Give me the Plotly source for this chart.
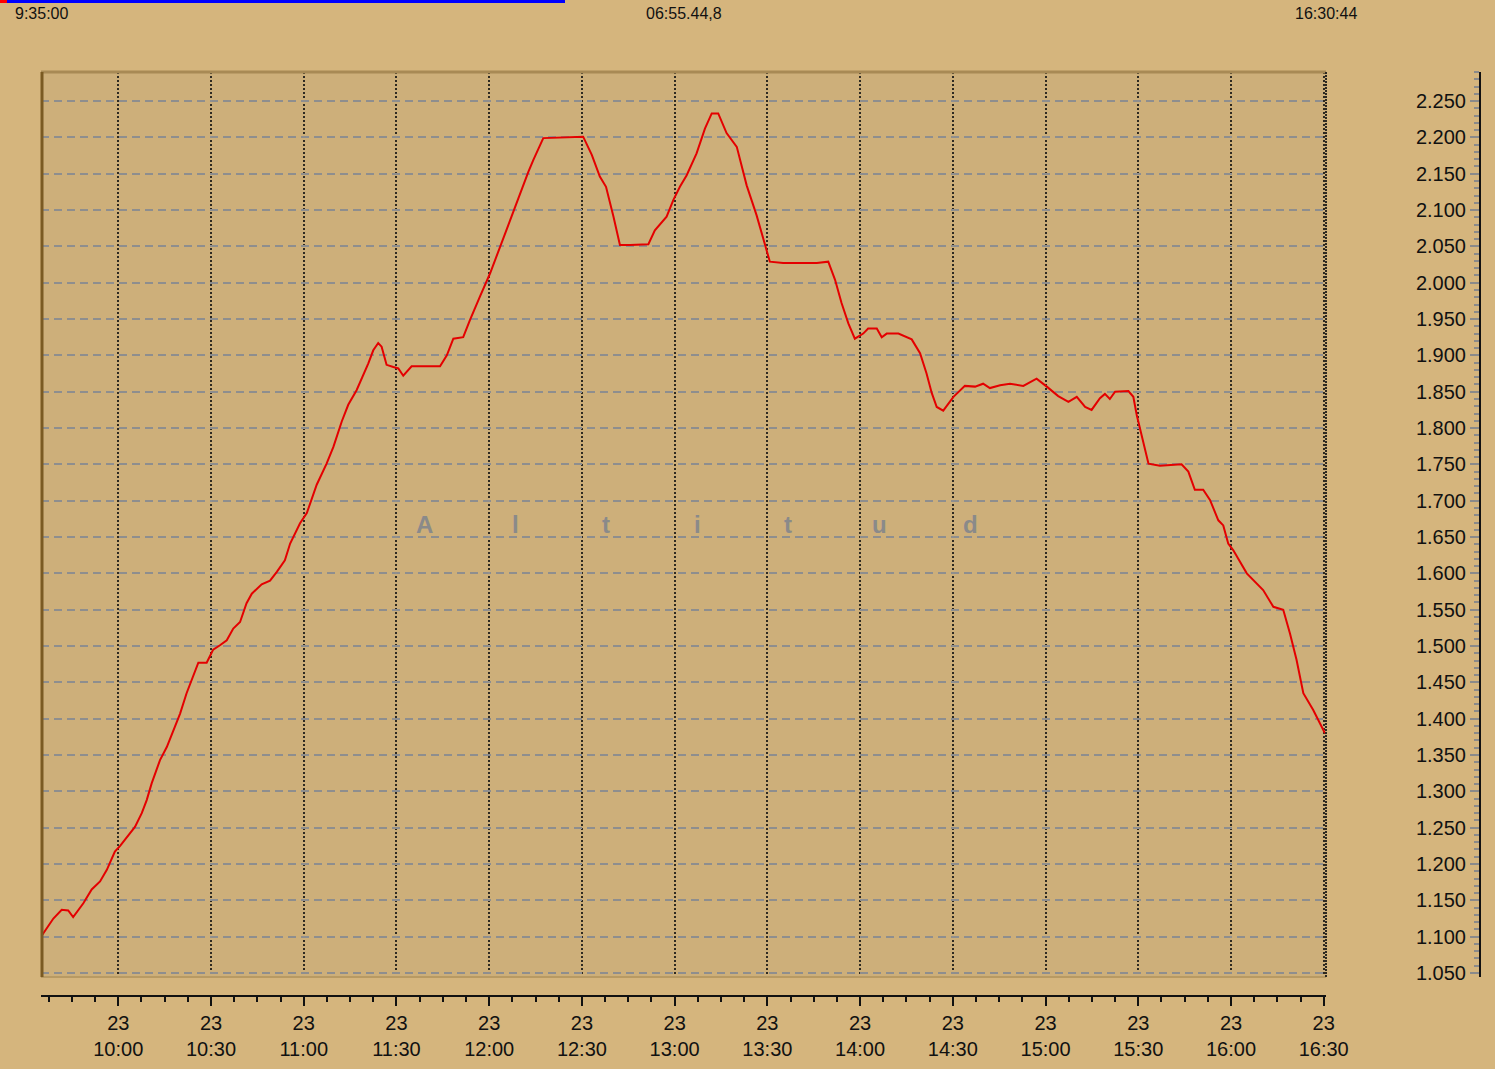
import plotly.graph_objects as go
import pandas as pd

# ---------------- data ----------------
start_time = "2009-05-23 09:35:00"
end_time = "2009-05-23 16:30:44"

# minutes after 09:35:00
minutes = [0.0, 4.0, 6.7, 8.8, 10.4, 13.7, 16.4, 19.1, 21.3, 23.9, 25.6, 30.4, 32.6, 34.2,
           35.8, 38.5, 40.7, 42.8, 45.0, 47.1, 49.3, 50.9, 53.6, 55.7, 57.9, 60.1, 62.2,
           64.4, 66.5, 68.2, 71.4, 74.1, 76.3, 78.9, 80.6, 83.8, 86.0, 89.2, 92.4, 94.6,
           97.3, 99.4, 102.1, 103.8, 105.9, 107.5, 109.1, 110.2, 111.8, 114.0, 115.6,
           117.2, 119.9, 123.7, 129.1, 131.3, 133.4, 136.6, 138.8, 142.0, 145.3, 148.5,
           152.3, 154.4, 157.7, 159.3, 162.5, 175.4, 178.2, 180.8, 182.8, 185.2, 187.3,
           190.6, 196.5, 198.6, 202.4, 204.6, 206.7, 208.9, 212.1, 214.8, 217.0, 219.1,
           221.8, 225.1, 228.3, 231.5, 233.7, 235.8, 240.1, 251.0, 254.7, 256.9, 259.0,
           261.2, 263.3, 266.0, 267.6, 270.4, 272.0, 273.6, 277.4, 281.7, 284.4, 286.5,
           288.2, 289.8, 291.9, 295.2, 298.9, 302.2, 304.8, 307.0, 310.3, 313.5, 317.8,
           322.1, 325.4, 329.1, 332.4, 335.1, 337.8, 339.9, 342.6, 344.2, 345.8, 347.5,
           351.8, 353.4, 354.5, 356.6, 358.3, 362.0, 369.0, 371.2, 373.3, 376.0, 378.2,
           380.9, 382.5, 384.1, 385.7, 390.1, 395.4, 398.7, 401.9, 404.1, 406.2, 408.4,
           411.6, 415.4]

altitude = [1100, 1125, 1137, 1136, 1127, 1146, 1165, 1176, 1192, 1217, 1225, 1251, 1270, 1288,
            1311, 1343, 1361, 1384, 1407, 1435, 1458, 1477, 1477, 1495, 1501, 1508, 1524,
            1533, 1559, 1572, 1585, 1590, 1602, 1618, 1641, 1669, 1683, 1722, 1751, 1774,
            1809, 1832, 1852, 1868, 1889, 1907, 1917, 1912, 1887, 1884, 1882,
            1872, 1885, 1885, 1885, 1900, 1923, 1925, 1949, 1981, 2013, 2049,
            2093, 2116, 2153, 2169, 2199, 2201, 2176, 2146, 2132, 2091, 2052,
            2052, 2053, 2072, 2091, 2114, 2132, 2148, 2178, 2212, 2233, 2233,
            2206, 2187, 2134, 2093, 2061, 2029, 2027, 2027, 2029, 2004, 1972,
            1944, 1923, 1930, 1937, 1937, 1925, 1930, 1930, 1922, 1903, 1875,
            1848, 1829, 1824, 1843, 1858, 1857, 1861, 1855, 1859, 1861, 1858,
            1868, 1857, 1844, 1836, 1843, 1829, 1825, 1841, 1847, 1840, 1850,
            1851, 1843, 1818, 1779, 1751, 1748, 1750, 1740, 1715, 1715, 1701,
            1673, 1666, 1641, 1632, 1600, 1577, 1554, 1550, 1517, 1481, 1435,
            1412, 1380]

title_text = "Altitud"
top_left_label = "9:35:00"
top_mid_label = "06:55.44,8"
top_right_label = "16:30:44"

# ---------------- layout constants ----------------
W, H = 1495, 1069
ML, MR, MT, MB = 41, 15, 72, 73
PW = W - ML - MR          # paper width in px
PH = H - MT - MB          # paper height in px
PLOT_RIGHT = 1326
PLOT_BOTTOM = 977


def px_x(px):
    return (px - ML) / PW


def px_y(py):
    return (H - MB - py) / PH


x_dom = [0, px_x(PLOT_RIGHT)]
y_dom = [px_y(PLOT_BOTTOM), 1]

t0 = pd.Timestamp(start_time)
times = [t0 + pd.Timedelta(minutes=m) for m in minutes]
x_range = [start_time, end_time]
y_range = [1044.5, 2290]
tick0 = "2009-05-23 10:00:00"

OUTER_BG = "#D5B57D"
PLOT_BG = "#CDAF7A"
FONT = "Liberation Sans, Arial, sans-serif"

fig = go.Figure()
fig.add_trace(go.Scatter(x=times, y=altitude, mode="lines",
                         line=dict(color="#E40000", width=2),
                         hoverinfo="x+y", showlegend=False))
# invisible trace to carry the outer axes
fig.add_trace(go.Scatter(x=[start_time, end_time], y=[y_range[0], y_range[1]],
                         xaxis="x2", yaxis="y2", mode="markers",
                         marker=dict(opacity=0), hoverinfo="skip", showlegend=False))

fig.update_layout(
    width=W, height=H,
    margin=dict(l=ML, r=MR, t=MT, b=MB, autoexpand=False),
    paper_bgcolor=OUTER_BG,
    plot_bgcolor=PLOT_BG,
    separators=",.",
    font=dict(family=FONT, color="#111111"),
    xaxis=dict(
        type="date", domain=x_dom, range=x_range, automargin=False,
        tick0=tick0, dtick=1800000,
        showgrid=True, gridcolor="#2E2A22", gridwidth=1.5, griddash="2px,2px",
        showticklabels=False, ticks="", zeroline=False, showline=False,
    ),
    yaxis=dict(
        domain=y_dom, range=y_range, tick0=1050, dtick=50, automargin=False,
        showgrid=True, gridcolor="#8E8E8E", gridwidth=1.5, griddash="8px,5px",
        showticklabels=False, ticks="", zeroline=False, showline=False,
    ),
    xaxis2=dict(
        type="date", overlaying="x", anchor="free", position=0, domain=x_dom,
        range=x_range, tick0=tick0, dtick=1800000, tickformat="%d<br>%H:%M",
        showgrid=False, zeroline=False, automargin=False,
        showline=True, linecolor="#111111", linewidth=2,
        ticks="outside", ticklen=9, tickwidth=2, tickcolor="#111111",
        tickfont=dict(size=20, color="#111111", family=FONT),
        minor=dict(tick0=tick0, dtick=450000, ticks="outside", ticklen=5,
                   tickwidth=2, tickcolor="#111111", showgrid=False),
    ),
    yaxis2=dict(
        overlaying="y", anchor="free", position=1.0, side="left", domain=y_dom,
        range=y_range, tick0=1050, dtick=50, tickformat=",d", automargin=False,
        showgrid=False, zeroline=False,
        showline=True, linecolor="#111111", linewidth=2,
        ticks="outside", ticklen=9, tickwidth=2, tickcolor="#8A8A8A",
        tickfont=dict(size=20, color="#111111", family=FONT),
        minor=dict(tick0=1050, dtick=10, ticks="outside", ticklen=5,
                   tickwidth=2, tickcolor="#8A8A8A", showgrid=False),
    ),
)

shapes = []
# plot borders
shapes.append(dict(type="line", xref="paper", yref="paper",
                   x0=x_dom[0], x1=x_dom[1], y0=1, y1=1,
                   line=dict(color="#A88A55", width=3)))
shapes.append(dict(type="line", xref="paper", yref="paper",
                   x0=x_dom[0], x1=x_dom[1], y0=y_dom[0], y1=y_dom[0],
                   line=dict(color="#B89A63", width=2)))
shapes.append(dict(type="line", xref="paper", yref="paper",
                   x0=px_x(42), x1=px_x(42), y0=y_dom[0], y1=1,
                   line=dict(color="#7A5A22", width=3)))
shapes.append(dict(type="line", xref="paper", yref="paper",
                   x0=x_dom[1], x1=x_dom[1], y0=y_dom[0], y1=1,
                   line=dict(color="#2E2A22", width=2, dash="2px,1px")))
# top progress bar
shapes.append(dict(type="rect", xref="paper", yref="paper",
                   x0=px_x(0), x1=px_x(7), y0=px_y(3), y1=px_y(0),
                   line=dict(width=0), fillcolor="#FF0000"))
shapes.append(dict(type="rect", xref="paper", yref="paper",
                   x0=px_x(7), x1=px_x(565), y0=px_y(3), y1=px_y(0),
                   line=dict(width=0), fillcolor="#0000FF"))
fig.update_layout(shapes=shapes)

annotations = []
top_font = dict(size=16, color="#111111", family="Liberation Sans Narrow, " + FONT)
for lbl, px in [(top_left_label, ML), (top_mid_label, (ML + PLOT_RIGHT) / 2),
                (top_right_label, PLOT_RIGHT)]:
    annotations.append(dict(text=lbl, xref="paper", yref="paper",
                            x=px_x(px), y=px_y(14), xanchor="center", yanchor="middle",
                            showarrow=False, font=top_font))

# spaced-out watermark title
letter_start, letter_step = 424, 91
for i, ch in enumerate(title_text):
    annotations.append(dict(text=ch, xref="paper", yref="paper",
                            x=px_x(letter_start + i * letter_step), y=px_y(524),
                            xanchor="center", yanchor="middle", showarrow=False,
                            font=dict(size=24, color="#8A8A8A", family=FONT, weight="bold")))
fig.update_layout(annotations=annotations)

fig.write_html(
    "out.html",
    config={"displayModeBar": False},
    post_script="document.body.style.margin='0';document.body.style.background='"
                + OUTER_BG + "';document.body.style.overflow='hidden';",
)
